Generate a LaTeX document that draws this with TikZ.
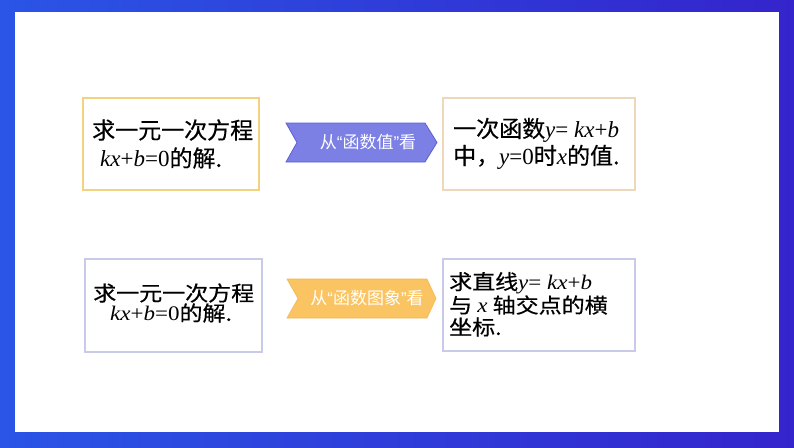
\documentclass[tikz,border=0pt]{standalone}
\usepackage{fontspec}
\newfontfamily\cjk[FakeBold=0.5]{Noto Sans CJK SC}
\newfontfamily\cjkl{Noto Sans CJK SC}
\newfontfamily\tms{Liberation Serif}
\newfontfamily\lsans{Liberation Sans}
\definecolor{blueA}{HTML}{2A55E6}
\definecolor{blueB}{HTML}{3424CC}
\definecolor{bYel}{HTML}{F2D27E}
\definecolor{bTan}{HTML}{EED8BC}
\definecolor{bLav}{HTML}{C9C9EA}
\definecolor{chA}{HTML}{7C80E4}
\definecolor{chAd}{HTML}{5B60D8}
\definecolor{chB}{HTML}{FAC463}
\definecolor{chBd}{HTML}{F4B850}
\newcommand{\mi}[1]{{\tms\itshape #1}}
\newcommand{\mr}[1]{{\tms #1}}
\newcommand{\myLq}{{\lsans “}}
\newcommand{\myRq}{{\lsans ”}}
\newcommand{\sq}[1]{\scalebox{1}[0.9]{#1}}
\tikzset{
  box/.style={draw, line width=1.2pt, fill=white, minimum width=#1, inner sep=0pt},
  txt/.style={anchor=west, inner sep=0pt, font=\cjk\fontsize{23}{28}\selectfont, text=black},
  lab/.style={inner sep=0pt, font=\cjkl\fontsize{17}{19}\selectfont, text=white}
}
\begin{document}
\begin{tikzpicture}[x=1pt,y=-1pt]
\shade[left color=blueA, right color=blueB] (0,0) rectangle (794,447);
\fill[white] (15,12) rectangle (779,432);
\useasboundingbox (0,0) rectangle (794,447);
% boxes
\node[box=176pt, draw=bYel, minimum height=92pt] (b1) at (171,144) {};
\node[box=192pt, draw=bTan, minimum height=92pt] (b2) at (539,144) {};
\node[box=177pt, draw=bLav, minimum height=93pt] (b3) at (173.5,305.5) {};
\node[box=192pt, draw=bLav, minimum height=92pt] (b4) at (539,305) {};
% chevrons
\filldraw[fill=chA, draw=chAd, line width=0.8pt] (286,123) -- (425,123) -- (437,142.5) -- (425,162) -- (286,162) -- (297,142.5) -- cycle;
\filldraw[fill=chB, draw=chBd, line width=0.6pt] (287,279) -- (427,279) -- (436,298.5) -- (427,318) -- (287,318) -- (298,298.5) -- cycle;
\node[lab] (l1) at (368,142.5) {从\myLq 函数值\myRq 看};
\node[lab] (l2) at (367,298.5) {从\myLq 函数图象\myRq 看};
% texts
\node[txt] (t11) at (92,130) {求一元一次方程};
\node[txt] (t12) at (100,158) {\mi{kx}\mr{+}\mi{b}\mr{=0}的解.};
\node[txt] (t21) at (453,130) {一次函数\mi{y}\mr{= }\mi{kx}\mr{+}\mi{b}};
\node[txt] (t22) at (453,157) {中，\mi{y}\mr{=0}时\mi{x}的值.};
\node[txt] (t31) at (93,293) {\sq{求一元一次方程}};
\node[txt] (t32) at (110,313) {\sq{\mi{kx}\mr{+}\mi{b}\mr{=0}的解.}};
\node[txt] (t41) at (449,283) {\sq{求直线\mi{y}\mr{= }\mi{kx}\mr{+}\mi{b}}};
\node[txt] (t42) at (449,305) {\sq{与 \mi{x} 轴交点的横}};
\node[txt] (t43) at (449,327) {\sq{坐标.}};
\end{tikzpicture}
\end{document}
